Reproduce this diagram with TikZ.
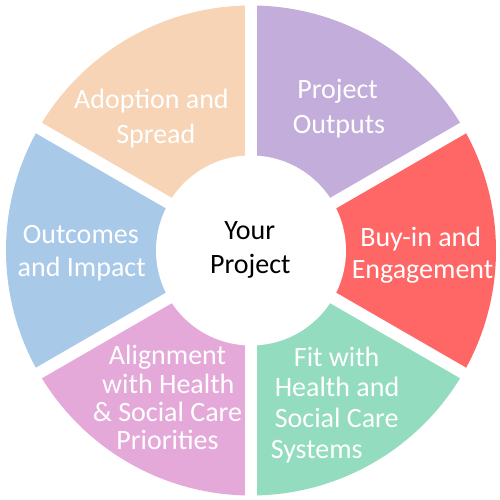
\documentclass[tikz,border=0pt]{standalone}
\usepackage{fontspec}
\setmainfont{Carlito}
\definecolor{cpeach}{RGB}{247,212,181}
\definecolor{clav}{RGB}{195,173,218}
\definecolor{cred}{RGB}{255,102,102}
\definecolor{cmint}{RGB}{147,220,192}
\definecolor{cpink}{RGB}{229,169,217}
\definecolor{cblue}{RGB}{168,201,232}
\begin{document}
\begin{tikzpicture}[x=1pt,y=1pt,
  lbl/.style={text=white,font=\fontsize{28}{33}\selectfont,anchor=base,inner sep=0pt},
  ctr/.style={text=black,font=\fontsize{28}{33}\selectfont,anchor=base,inner sep=0pt},
  gap/.style={white,line width=12pt}]
\useasboundingbox (0,0) rectangle (500,500);
\fill[white] (0,0) rectangle (500,500);
\coordinate (C) at (251,249.5);
\def\R{245}
\fill[clav]   (C) -- ++(30:\R)  arc[start angle=30,end angle=90,radius=\R] -- cycle;
\fill[cpeach] (C) -- ++(90:\R)  arc[start angle=90,end angle=150,radius=\R] -- cycle;
\fill[cblue]  (C) -- ++(150:\R) arc[start angle=150,end angle=210,radius=\R] -- cycle;
\fill[cpink]  (C) -- ++(210:\R) arc[start angle=210,end angle=270,radius=\R] -- cycle;
\fill[cmint]  (C) -- ++(270:\R) arc[start angle=270,end angle=330,radius=\R] -- cycle;
\fill[cred]   (C) -- ++(330:\R) arc[start angle=330,end angle=390,radius=\R] -- cycle;
\foreach \a in {30,90,150,210,270,330} \draw[gap] (C) -- ++(\a:260);
\fill[white] (C) circle[radius=95];
% labels
\node[lbl] (ad1) at (151.5,391.7) {Adoption and};
\node[lbl] (ad2) at (155.8,356) {Spread};
\node[lbl] (po1) at (337.5,401.7) {Project};
\node[lbl] (po2) at (339,366.7) {Outputs};
\node[lbl] (bi1) at (420.7,253.3) {Buy-in and};
\node[lbl] (bi2) at (422.5,221.7) {Engagement};
\node[lbl] (fw1) at (336.7,133.3) {Fit with};
\node[lbl] (fw2) at (337,103.3) {Health and};
\node[lbl] (fw3) at (336.7,72.7) {Social Care};
\node[lbl] (fw4) at (316.7,41.7) {Systems};
\node[lbl] (al1) at (167.5,135) {Alignment};
\node[lbl] (al2) at (168.3,106.7) {with Health};
\node[lbl] (al3) at (167.5,78.3) {\& Social Care};
\node[lbl] (al4) at (167.5,50) {Priorities};
\node[lbl] (oi1) at (80.8,256.7) {Outcomes};
\node[lbl] (oi2) at (81.7,223.3) {and Impact};
\node[ctr] (yp1) at (249.7,260) {Your};
\node[ctr] (yp2) at (250.3,226.7) {Project};
\end{tikzpicture}
\end{document}
